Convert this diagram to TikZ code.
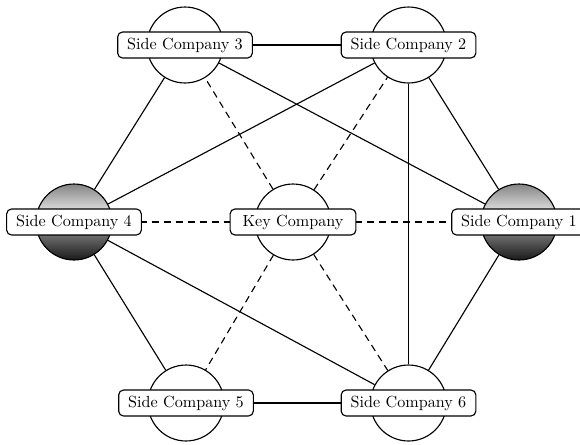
\documentclass[tikz,border=0pt]{standalone}
% dark globe behind the two outer side companies
\pgfdeclareverticalshading{darkglobe}{100bp}{color(0bp)=(black!90); color(25bp)=(black!90); color(41bp)=(black!58); color(50bp)=(black!35); color(58bp)=(black!14); color(75bp)=(black!48); color(100bp)=(black!48)}
\begin{document}
\begin{tikzpicture}[x=0.62pt,y=-0.62pt,
  hub/.style={circle, draw, line width=0.7pt, fill=white, minimum size=47.1pt, inner sep=0pt},
  shaded hub/.style={hub, shading=darkglobe},
  tag/.style={draw, fill=white, rounded corners=3pt, line width=0.7pt,
    minimum height=16.1pt, minimum width=78pt, inner xsep=5.9pt, inner ysep=0pt},
  link/.style={line width=0.7pt},
  tie/.style={link, dash pattern=on 4.3pt off 3.1pt}]
\useasboundingbox (0,0) rectangle (580,444);

% circles
\node[hub] (k) at (293,222) {};
\node[shaded hub] (s1) at (519,222) {};
\node[hub] (s2) at (408.5,45) {};
\node[hub] (s3) at (185,45) {};
\node[shaded hub] (s4) at (74,222) {};
\node[hub] (s5) at (186,403) {};
\node[hub] (s6) at (408.5,403) {};

% solid links between side companies
\draw[link] (s3) -- (s2);
\draw[link] (s3) -- (s4);
\draw[link] (s3) -- (s1);
\draw[link] (s2) -- (s4);
\draw[link] (s2) -- (s1);
\draw[link] (s2) -- (s6);
\draw[link] (s4) -- (s5);
\draw[link] (s4) -- (s6);
\draw[link] (s5) -- (s6);
\draw[link] (s6) -- (s1);

% dashed ties to the key company
\foreach \s in {s1,s2,s3,s4,s5,s6}
  \draw[tie] (k) -- (\s);

% labels
\node[tag] (kt) at (k) {Key Company};
\node[tag] (t1) at (s1) {Side Company 1};
\node[tag] (t2) at (s2) {Side Company 2};
\node[tag] (t3) at (s3) {Side Company 3};
\node[tag] (t4) at (s4) {Side Company 4};
\node[tag] (t5) at (s5) {Side Company 5};
\node[tag] (t6) at (s6) {Side Company 6};
\end{tikzpicture}
\end{document}
